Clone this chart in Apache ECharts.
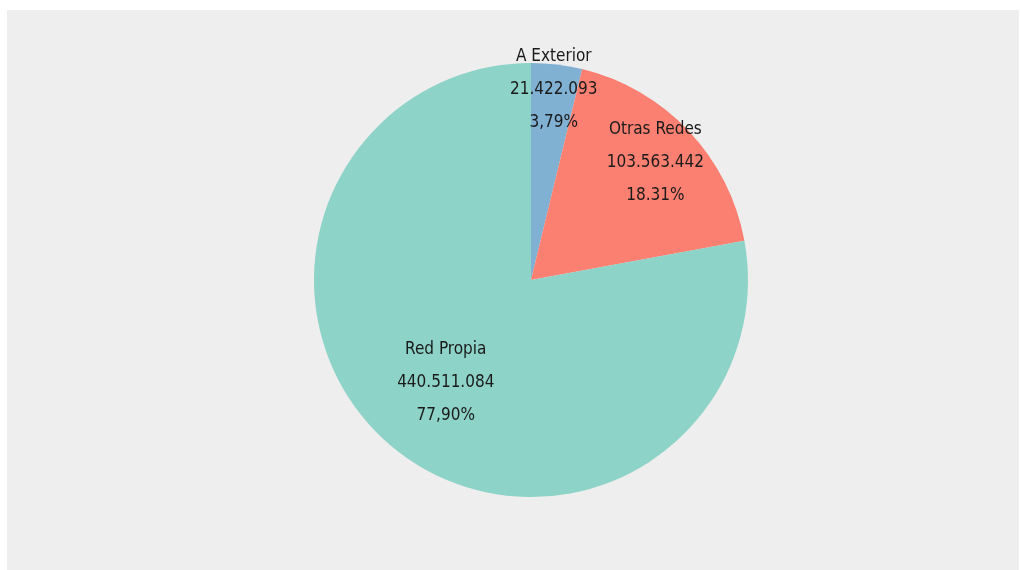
<!DOCTYPE html>
<html><head><meta charset="utf-8">
<script src="https://cdn.jsdelivr.net/npm/echarts@6/dist/echarts.min.js"></script>
<style>
html,body{margin:0;padding:0;background:#fff;width:1021px;height:570px;overflow:hidden}
#c{position:absolute;left:7px;top:10px;width:1012px;height:560px;background:#eeeeee}
</style></head><body><div id="c"></div>
<script>
const categories = ["A Exterior", "Otras Redes", "Red Propia"];
const values = [21422093, 103563442, 440511084];
const pctLabels = ["3,79%", "18.31%", "77,90%"];
const colors = ["#80b1d3", "#fb8072", "#8dd3c7"];
const labelRadius = [0.87, 0.775, 0.60];

const R = 217;
const total = values.reduce((a, b) => a + b, 0);
function fmt(n){ return String(n).replace(/\B(?=(\d{3})+(?!\d))/g, "."); }
let cum = 0;
const data = categories.map((name, i) => {
  const mid = (cum + values[i] / 2) / total * 2 * Math.PI;
  cum += values[i];
  const k = (labelRadius[i] - 0.5) * R;
  return {
    name, value: values[i],
    itemStyle: { color: colors[i] },
    label: { offset: [k * Math.sin(mid), -k * Math.cos(mid)] }
  };
});
const chart = echarts.init(document.getElementById('c'));
chart.setOption({
  backgroundColor: '#eeeeee',
  animation: false,
  series: [{
    type: 'pie',
    center: [524, 270],
    radius: [0, R],
    startAngle: 90,
    clockwise: true,
    data,
    label: {
      show: true,
      position: 'inside',
      color: '#1a1a1a',
      fontFamily: '"Liberation Sans Narrow", "DejaVu Sans Condensed", sans-serif',
      fontSize: 17,
      lineHeight: 33,
      formatter: p => p.name + '\n' + fmt(p.value) + '\n' + pctLabels[p.dataIndex]
    },
    labelLine: { show: false },
    itemStyle: { borderWidth: 0 },
    emphasis: { disabled: true }
  }]
});
</script></body></html>
